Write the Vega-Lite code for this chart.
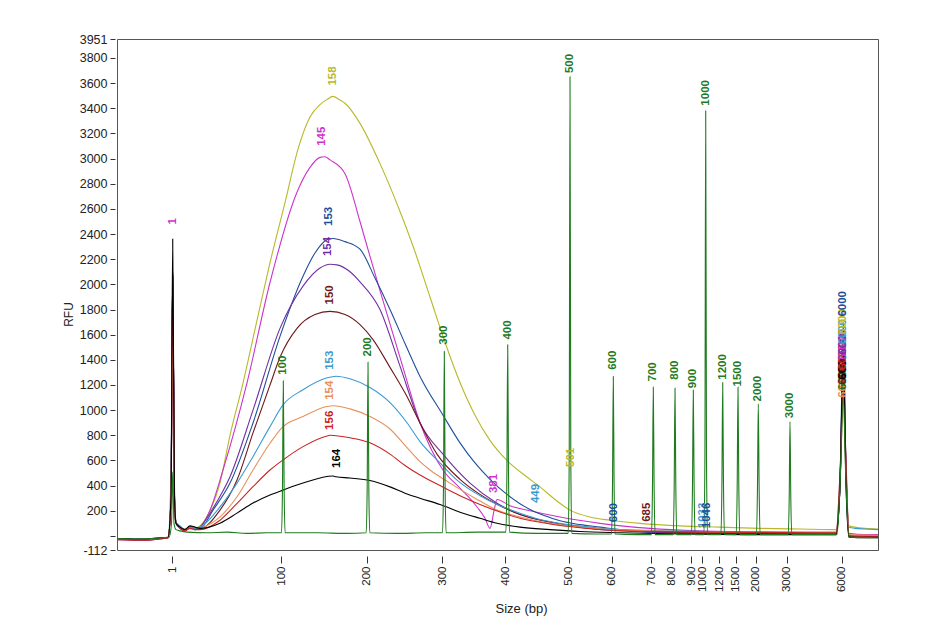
{
  "$schema": "https://vega.github.io/schema/vega-lite/v6.json",
  "width": 761,
  "height": 511,
  "autosize": "none",
  "padding": {"left": 117, "top": 39, "right": 67, "bottom": 75},
  "background": "white",
  "config": {
    "view": {"stroke": "#555555", "strokeWidth": 1},
    "font": "Liberation Sans"
  },
  "datasets": {
    "traces": [
      {"s":"S158","x":0,"y":-25},{"s":"S158","x":280,"y":-30},{"s":"S158","x":430,"y":-20},{"s":"S158","x":510,"y":-15},{"s":"S158","x":540,"y":300},{"s":"S158","x":557,"y":2000},{"s":"S158","x":575,"y":300},{"s":"S158","x":590,"y":110},{"s":"S158","x":630,"y":70},{"s":"S158","x":680,"y":50},{"s":"S158","x":730,"y":70},{"s":"S158","x":780,"y":60},{"s":"S158","x":830,"y":80},{"s":"S158","x":930,"y":200},{"s":"S158","x":1030,"y":420},{"s":"S158","x":1130,"y":800},{"s":"S158","x":1260,"y":1215},{"s":"S158","x":1410,"y":1750},{"s":"S158","x":1530,"y":2172},{"s":"S158","x":1680,"y":2650},{"s":"S158","x":1810,"y":3075},{"s":"S158","x":1930,"y":3330},{"s":"S158","x":2030,"y":3430},{"s":"S158","x":2100,"y":3470},{"s":"S158","x":2160,"y":3495},{"s":"S158","x":2220,"y":3470},{"s":"S158","x":2280,"y":3440},{"s":"S158","x":2430,"y":3280},{"s":"S158","x":2630,"y":2960},{"s":"S158","x":2830,"y":2580},{"s":"S158","x":2960,"y":2305},{"s":"S158","x":3130,"y":1900},{"s":"S158","x":3280,"y":1540},{"s":"S158","x":3430,"y":1220},{"s":"S158","x":3580,"y":960},{"s":"S158","x":3730,"y":760},{"s":"S158","x":3900,"y":600},{"s":"S158","x":4080,"y":480},{"s":"S158","x":4230,"y":390},{"s":"S158","x":4380,"y":290},{"s":"S158","x":4530,"y":205},{"s":"S158","x":4730,"y":150},{"s":"S158","x":4930,"y":125},{"s":"S158","x":5230,"y":100},{"s":"S158","x":5630,"y":80},{"s":"S158","x":6030,"y":70},{"s":"S158","x":6430,"y":60},{"s":"S158","x":6830,"y":55},{"s":"S158","x":7190,"y":50},{"s":"S158","x":7230,"y":400},{"s":"S158","x":7263,"y":1480},{"s":"S158","x":7290,"y":500},{"s":"S158","x":7320,"y":80},{"s":"S158","x":7380,"y":70},{"s":"S158","x":7480,"y":60},{"s":"S158","x":7610,"y":55},

      {"s":"S145","x":0,"y":-30},{"s":"S145","x":280,"y":-35},{"s":"S145","x":430,"y":-25},{"s":"S145","x":510,"y":-15},{"s":"S145","x":540,"y":300},{"s":"S145","x":557,"y":2050},{"s":"S145","x":575,"y":300},{"s":"S145","x":590,"y":100},{"s":"S145","x":630,"y":60},{"s":"S145","x":680,"y":40},{"s":"S145","x":730,"y":70},{"s":"S145","x":780,"y":50},{"s":"S145","x":830,"y":70},{"s":"S145","x":930,"y":205},{"s":"S145","x":1060,"y":524},{"s":"S145","x":1300,"y":1217},{"s":"S145","x":1530,"y":2015},{"s":"S145","x":1800,"y":2733},{"s":"S145","x":1930,"y":2930},{"s":"S145","x":2030,"y":3010},{"s":"S145","x":2080,"y":3015},{"s":"S145","x":2130,"y":2990},{"s":"S145","x":2280,"y":2880},{"s":"S145","x":2430,"y":2500},{"s":"S145","x":2500,"y":2305},{"s":"S145","x":2630,"y":1950},{"s":"S145","x":2830,"y":1420},{"s":"S145","x":3030,"y":900},{"s":"S145","x":3260,"y":524},{"s":"S145","x":3430,"y":380},{"s":"S145","x":3580,"y":250},{"s":"S145","x":3680,"y":140},{"s":"S145","x":3730,"y":60},{"s":"S145","x":3770,"y":200},{"s":"S145","x":3800,"y":290},{"s":"S145","x":3930,"y":240},{"s":"S145","x":4130,"y":200},{"s":"S145","x":4430,"y":150},{"s":"S145","x":4830,"y":100},{"s":"S145","x":5330,"y":60},{"s":"S145","x":5830,"y":40},{"s":"S145","x":6430,"y":30},{"s":"S145","x":7190,"y":25},{"s":"S145","x":7230,"y":400},{"s":"S145","x":7263,"y":1400},{"s":"S145","x":7290,"y":500},{"s":"S145","x":7320,"y":20},{"s":"S145","x":7480,"y":10},{"s":"S145","x":7610,"y":10},

      {"s":"S153a","x":0,"y":-25},{"s":"S153a","x":280,"y":-30},{"s":"S153a","x":430,"y":-20},{"s":"S153a","x":510,"y":-15},{"s":"S153a","x":540,"y":300},{"s":"S153a","x":557,"y":2080},{"s":"S153a","x":575,"y":300},{"s":"S153a","x":590,"y":110},{"s":"S153a","x":630,"y":70},{"s":"S153a","x":680,"y":50},{"s":"S153a","x":730,"y":70},{"s":"S153a","x":780,"y":60},{"s":"S153a","x":830,"y":60},{"s":"S153a","x":960,"y":205},{"s":"S153a","x":1130,"y":420},{"s":"S153a","x":1360,"y":898},{"s":"S153a","x":1630,"y":1587},{"s":"S153a","x":1860,"y":2065},{"s":"S153a","x":1980,"y":2250},{"s":"S153a","x":2100,"y":2355},{"s":"S153a","x":2160,"y":2365},{"s":"S153a","x":2280,"y":2340},{"s":"S153a","x":2430,"y":2280},{"s":"S153a","x":2580,"y":2050},{"s":"S153a","x":2730,"y":1800},{"s":"S153a","x":2880,"y":1530},{"s":"S153a","x":3030,"y":1268},{"s":"S153a","x":3260,"y":960},{"s":"S153a","x":3430,"y":740},{"s":"S153a","x":3580,"y":580},{"s":"S153a","x":3730,"y":450},{"s":"S153a","x":3900,"y":330},{"s":"S153a","x":4130,"y":210},{"s":"S153a","x":4280,"y":160},{"s":"S153a","x":4430,"y":120},{"s":"S153a","x":4630,"y":90},{"s":"S153a","x":4830,"y":70},{"s":"S153a","x":5030,"y":50},{"s":"S153a","x":5330,"y":30},{"s":"S153a","x":5830,"y":20},{"s":"S153a","x":6430,"y":15},{"s":"S153a","x":7190,"y":15},{"s":"S153a","x":7230,"y":400},{"s":"S153a","x":7263,"y":1700},{"s":"S153a","x":7290,"y":500},{"s":"S153a","x":7320,"y":0},{"s":"S153a","x":7480,"y":-10},{"s":"S153a","x":7610,"y":-10},

      {"s":"S154a","x":0,"y":-25},{"s":"S154a","x":280,"y":-35},{"s":"S154a","x":430,"y":-20},{"s":"S154a","x":510,"y":-15},{"s":"S154a","x":540,"y":300},{"s":"S154a","x":557,"y":2060},{"s":"S154a","x":575,"y":300},{"s":"S154a","x":590,"y":100},{"s":"S154a","x":630,"y":60},{"s":"S154a","x":680,"y":40},{"s":"S154a","x":730,"y":70},{"s":"S154a","x":780,"y":50},{"s":"S154a","x":830,"y":70},{"s":"S154a","x":960,"y":220},{"s":"S154a","x":1130,"y":470},{"s":"S154a","x":1360,"y":1000},{"s":"S154a","x":1630,"y":1650},{"s":"S154a","x":1860,"y":1986},{"s":"S154a","x":2030,"y":2130},{"s":"S154a","x":2130,"y":2160},{"s":"S154a","x":2200,"y":2155},{"s":"S154a","x":2330,"y":2100},{"s":"S154a","x":2430,"y":2020},{"s":"S154a","x":2630,"y":1800},{"s":"S154a","x":2830,"y":1350},{"s":"S154a","x":3030,"y":900},{"s":"S154a","x":3260,"y":650},{"s":"S154a","x":3530,"y":420},{"s":"S154a","x":3800,"y":260},{"s":"S154a","x":4030,"y":170},{"s":"S154a","x":4330,"y":110},{"s":"S154a","x":4630,"y":70},{"s":"S154a","x":4930,"y":45},{"s":"S154a","x":5330,"y":30},{"s":"S154a","x":6030,"y":20},{"s":"S154a","x":7190,"y":20},{"s":"S154a","x":7230,"y":400},{"s":"S154a","x":7263,"y":1360},{"s":"S154a","x":7290,"y":500},{"s":"S154a","x":7320,"y":0},{"s":"S154a","x":7610,"y":0},

      {"s":"S150","x":0,"y":-25},{"s":"S150","x":280,"y":-30},{"s":"S150","x":430,"y":-20},{"s":"S150","x":510,"y":-15},{"s":"S150","x":540,"y":300},{"s":"S150","x":557,"y":2070},{"s":"S150","x":575,"y":300},{"s":"S150","x":590,"y":100},{"s":"S150","x":630,"y":70},{"s":"S150","x":680,"y":50},{"s":"S150","x":730,"y":70},{"s":"S150","x":780,"y":60},{"s":"S150","x":830,"y":60},{"s":"S150","x":1030,"y":205},{"s":"S150","x":1200,"y":444},{"s":"S150","x":1360,"y":819},{"s":"S150","x":1530,"y":1200},{"s":"S150","x":1630,"y":1420},{"s":"S150","x":1800,"y":1650},{"s":"S150","x":1980,"y":1760},{"s":"S150","x":2130,"y":1785},{"s":"S150","x":2280,"y":1760},{"s":"S150","x":2430,"y":1680},{"s":"S150","x":2560,"y":1561},{"s":"S150","x":2730,"y":1340},{"s":"S150","x":2900,"y":1108},{"s":"S150","x":3030,"y":898},{"s":"S150","x":3200,"y":650},{"s":"S150","x":3430,"y":450},{"s":"S150","x":3630,"y":330},{"s":"S150","x":3830,"y":240},{"s":"S150","x":4030,"y":170},{"s":"S150","x":4330,"y":110},{"s":"S150","x":4630,"y":70},{"s":"S150","x":4930,"y":50},{"s":"S150","x":5230,"y":40},{"s":"S150","x":5630,"y":30},{"s":"S150","x":6430,"y":20},{"s":"S150","x":7190,"y":20},{"s":"S150","x":7230,"y":500},{"s":"S150","x":7263,"y":1160},{"s":"S150","x":7290,"y":600},{"s":"S150","x":7320,"y":0},{"s":"S150","x":7610,"y":-5},

      {"s":"S153b","x":0,"y":-20},{"s":"S153b","x":280,"y":-25},{"s":"S153b","x":430,"y":-15},{"s":"S153b","x":510,"y":-10},{"s":"S153b","x":540,"y":490},{"s":"S153b","x":557,"y":2040},{"s":"S153b","x":575,"y":400},{"s":"S153b","x":590,"y":110},{"s":"S153b","x":630,"y":80},{"s":"S153b","x":680,"y":50},{"s":"S153b","x":730,"y":70},{"s":"S153b","x":780,"y":60},{"s":"S153b","x":830,"y":70},{"s":"S153b","x":1030,"y":231},{"s":"S153b","x":1200,"y":420},{"s":"S153b","x":1360,"y":630},{"s":"S153b","x":1530,"y":869},{"s":"S153b","x":1660,"y":1042},{"s":"S153b","x":1860,"y":1162},{"s":"S153b","x":2100,"y":1257},{"s":"S153b","x":2190,"y":1270},{"s":"S153b","x":2330,"y":1250},{"s":"S153b","x":2530,"y":1180},{"s":"S153b","x":2730,"y":1060},{"s":"S153b","x":2900,"y":900},{"s":"S153b","x":3030,"y":750},{"s":"S153b","x":3230,"y":580},{"s":"S153b","x":3400,"y":444},{"s":"S153b","x":3630,"y":320},{"s":"S153b","x":3830,"y":240},{"s":"S153b","x":4030,"y":180},{"s":"S153b","x":4230,"y":130},{"s":"S153b","x":4430,"y":100},{"s":"S153b","x":4730,"y":70},{"s":"S153b","x":5030,"y":50},{"s":"S153b","x":5530,"y":40},{"s":"S153b","x":6430,"y":30},{"s":"S153b","x":7190,"y":30},{"s":"S153b","x":7230,"y":400},{"s":"S153b","x":7263,"y":1440},{"s":"S153b","x":7290,"y":500},{"s":"S153b","x":7320,"y":70},{"s":"S153b","x":7380,"y":60},{"s":"S153b","x":7480,"y":55},{"s":"S153b","x":7610,"y":50},

      {"s":"S154b","x":0,"y":-25},{"s":"S154b","x":280,"y":-30},{"s":"S154b","x":430,"y":-20},{"s":"S154b","x":510,"y":-15},{"s":"S154b","x":540,"y":300},{"s":"S154b","x":557,"y":1600},{"s":"S154b","x":575,"y":300},{"s":"S154b","x":590,"y":100},{"s":"S154b","x":630,"y":60},{"s":"S154b","x":680,"y":40},{"s":"S154b","x":730,"y":60},{"s":"S154b","x":780,"y":50},{"s":"S154b","x":830,"y":60},{"s":"S154b","x":1030,"y":152},{"s":"S154b","x":1200,"y":311},{"s":"S154b","x":1360,"y":524},{"s":"S154b","x":1530,"y":737},{"s":"S154b","x":1660,"y":869},{"s":"S154b","x":1860,"y":949},{"s":"S154b","x":2100,"y":1029},{"s":"S154b","x":2160,"y":1035},{"s":"S154b","x":2330,"y":1010},{"s":"S154b","x":2530,"y":950},{"s":"S154b","x":2730,"y":850},{"s":"S154b","x":2880,"y":720},{"s":"S154b","x":3030,"y":590},{"s":"S154b","x":3130,"y":524},{"s":"S154b","x":3330,"y":420},{"s":"S154b","x":3580,"y":300},{"s":"S154b","x":3800,"y":205},{"s":"S154b","x":4030,"y":150},{"s":"S154b","x":4330,"y":100},{"s":"S154b","x":4630,"y":70},{"s":"S154b","x":4930,"y":50},{"s":"S154b","x":5330,"y":40},{"s":"S154b","x":6030,"y":30},{"s":"S154b","x":7190,"y":25},{"s":"S154b","x":7230,"y":400},{"s":"S154b","x":7263,"y":1060},{"s":"S154b","x":7290,"y":500},{"s":"S154b","x":7320,"y":10},{"s":"S154b","x":7610,"y":5},

      {"s":"S156","x":0,"y":-30},{"s":"S156","x":280,"y":-35},{"s":"S156","x":430,"y":-25},{"s":"S156","x":510,"y":-15},{"s":"S156","x":540,"y":300},{"s":"S156","x":557,"y":2090},{"s":"S156","x":575,"y":300},{"s":"S156","x":590,"y":100},{"s":"S156","x":630,"y":60},{"s":"S156","x":680,"y":40},{"s":"S156","x":730,"y":60},{"s":"S156","x":780,"y":50},{"s":"S156","x":830,"y":50},{"s":"S156","x":1030,"y":125},{"s":"S156","x":1200,"y":258},{"s":"S156","x":1360,"y":391},{"s":"S156","x":1530,"y":524},{"s":"S156","x":1660,"y":604},{"s":"S156","x":1860,"y":710},{"s":"S156","x":2100,"y":795},{"s":"S156","x":2130,"y":800},{"s":"S156","x":2330,"y":780},{"s":"S156","x":2530,"y":740},{"s":"S156","x":2730,"y":650},{"s":"S156","x":2880,"y":560},{"s":"S156","x":3030,"y":484},{"s":"S156","x":3230,"y":400},{"s":"S156","x":3430,"y":320},{"s":"S156","x":3630,"y":250},{"s":"S156","x":3830,"y":190},{"s":"S156","x":4030,"y":140},{"s":"S156","x":4330,"y":95},{"s":"S156","x":4630,"y":65},{"s":"S156","x":4930,"y":45},{"s":"S156","x":5330,"y":35},{"s":"S156","x":6030,"y":30},{"s":"S156","x":7190,"y":25},{"s":"S156","x":7230,"y":450},{"s":"S156","x":7263,"y":1260},{"s":"S156","x":7290,"y":550},{"s":"S156","x":7320,"y":-5},{"s":"S156","x":7610,"y":-10},

      {"s":"S164","x":0,"y":-20},{"s":"S164","x":280,"y":-25},{"s":"S164","x":430,"y":-15},{"s":"S164","x":510,"y":-10},{"s":"S164","x":540,"y":300},{"s":"S164","x":557,"y":2360},{"s":"S164","x":575,"y":300},{"s":"S164","x":590,"y":100},{"s":"S164","x":630,"y":70},{"s":"S164","x":680,"y":50},{"s":"S164","x":730,"y":80},{"s":"S164","x":780,"y":70},{"s":"S164","x":830,"y":60},{"s":"S164","x":1030,"y":101},{"s":"S164","x":1200,"y":181},{"s":"S164","x":1360,"y":261},{"s":"S164","x":1530,"y":325},{"s":"S164","x":1660,"y":364},{"s":"S164","x":1860,"y":420},{"s":"S164","x":2160,"y":476},{"s":"S164","x":2190,"y":470},{"s":"S164","x":2330,"y":460},{"s":"S164","x":2530,"y":440},{"s":"S164","x":2730,"y":390},{"s":"S164","x":2880,"y":340},{"s":"S164","x":3030,"y":300},{"s":"S164","x":3230,"y":250},{"s":"S164","x":3460,"y":181},{"s":"S164","x":3630,"y":140},{"s":"S164","x":3800,"y":101},{"s":"S164","x":4030,"y":70},{"s":"S164","x":4330,"y":50},{"s":"S164","x":4630,"y":35},{"s":"S164","x":5030,"y":25},{"s":"S164","x":5630,"y":15},{"s":"S164","x":6430,"y":10},{"s":"S164","x":7190,"y":10},{"s":"S164","x":7230,"y":400},{"s":"S164","x":7263,"y":1480},{"s":"S164","x":7290,"y":400},{"s":"S164","x":7320,"y":-10},{"s":"S164","x":7480,"y":-15},{"s":"S164","x":7610,"y":-15},

      {"s":"Ladder","x":0,"y":-20},{"s":"Ladder","x":280,"y":-25},{"s":"Ladder","x":430,"y":-15},{"s":"Ladder","x":520,"y":-10},{"s":"Ladder","x":545,"y":100},{"s":"Ladder","x":557,"y":510},{"s":"Ladder","x":570,"y":100},{"s":"Ladder","x":590,"y":50},{"s":"Ladder","x":630,"y":40},{"s":"Ladder","x":700,"y":30},{"s":"Ladder","x":900,"y":25},{"s":"Ladder","x":1100,"y":30},{"s":"Ladder","x":1300,"y":20},{"s":"Ladder","x":1500,"y":25},{"s":"Ladder","x":1645,"y":25},{"s":"Ladder","x":1655,"y":400},{"s":"Ladder","x":1663,"y":1234},{"s":"Ladder","x":1671,"y":400},{"s":"Ladder","x":1681,"y":25},{"s":"Ladder","x":2000,"y":25},{"s":"Ladder","x":2300,"y":20},{"s":"Ladder","x":2492,"y":25},{"s":"Ladder","x":2502,"y":400},{"s":"Ladder","x":2510,"y":1380},{"s":"Ladder","x":2518,"y":400},{"s":"Ladder","x":2528,"y":25},{"s":"Ladder","x":2800,"y":20},{"s":"Ladder","x":3100,"y":25},{"s":"Ladder","x":3255,"y":25},{"s":"Ladder","x":3265,"y":400},{"s":"Ladder","x":3273,"y":1467},{"s":"Ladder","x":3281,"y":400},{"s":"Ladder","x":3291,"y":25},{"s":"Ladder","x":3600,"y":30},{"s":"Ladder","x":3889,"y":30},{"s":"Ladder","x":3899,"y":500},{"s":"Ladder","x":3907,"y":1520},{"s":"Ladder","x":3915,"y":500},{"s":"Ladder","x":3925,"y":30},{"s":"Ladder","x":4200,"y":20},{"s":"Ladder","x":4512,"y":20},{"s":"Ladder","x":4522,"y":600},{"s":"Ladder","x":4530,"y":3650},{"s":"Ladder","x":4538,"y":600},{"s":"Ladder","x":4548,"y":20},{"s":"Ladder","x":4800,"y":15},{"s":"Ladder","x":4945,"y":15},{"s":"Ladder","x":4955,"y":400},{"s":"Ladder","x":4963,"y":1268},{"s":"Ladder","x":4971,"y":400},{"s":"Ladder","x":4981,"y":15},{"s":"Ladder","x":5200,"y":10},{"s":"Ladder","x":5345,"y":10},{"s":"Ladder","x":5355,"y":400},{"s":"Ladder","x":5363,"y":1183},{"s":"Ladder","x":5371,"y":400},{"s":"Ladder","x":5381,"y":10},{"s":"Ladder","x":5562,"y":10},{"s":"Ladder","x":5572,"y":400},{"s":"Ladder","x":5580,"y":1175},{"s":"Ladder","x":5588,"y":400},{"s":"Ladder","x":5598,"y":10},{"s":"Ladder","x":5745,"y":10},{"s":"Ladder","x":5755,"y":400},{"s":"Ladder","x":5763,"y":1160},{"s":"Ladder","x":5771,"y":400},{"s":"Ladder","x":5781,"y":10},{"s":"Ladder","x":5869,"y":10},{"s":"Ladder","x":5879,"y":600},{"s":"Ladder","x":5887,"y":3381},{"s":"Ladder","x":5895,"y":600},{"s":"Ladder","x":5905,"y":10},{"s":"Ladder","x":6039,"y":10},{"s":"Ladder","x":6049,"y":400},{"s":"Ladder","x":6057,"y":1220},{"s":"Ladder","x":6065,"y":400},{"s":"Ladder","x":6075,"y":10},{"s":"Ladder","x":6192,"y":10},{"s":"Ladder","x":6202,"y":400},{"s":"Ladder","x":6210,"y":1183},{"s":"Ladder","x":6218,"y":400},{"s":"Ladder","x":6228,"y":10},{"s":"Ladder","x":6395,"y":10},{"s":"Ladder","x":6405,"y":400},{"s":"Ladder","x":6413,"y":1050},{"s":"Ladder","x":6421,"y":400},{"s":"Ladder","x":6431,"y":10},{"s":"Ladder","x":6712,"y":10},{"s":"Ladder","x":6722,"y":300},{"s":"Ladder","x":6730,"y":909},{"s":"Ladder","x":6738,"y":300},{"s":"Ladder","x":6748,"y":10},{"s":"Ladder","x":7000,"y":10},{"s":"Ladder","x":7200,"y":10},{"s":"Ladder","x":7230,"y":400},{"s":"Ladder","x":7263,"y":1100},{"s":"Ladder","x":7290,"y":400},{"s":"Ladder","x":7320,"y":-10},{"s":"Ladder","x":7610,"y":-15}
    ],
    "labels": [
      {"s":"S158","x":2163,"y":3581,"t":"158"},
      {"s":"S145","x":2047,"y":3102,"t":"145"},
      {"s":"S153a","x":2120,"y":2464,"t":"153"},
      {"s":"S154a","x":2110,"y":2225,"t":"154"},
      {"s":"S150","x":2130,"y":1840,"t":"150"},
      {"s":"S153b","x":2130,"y":1321,"t":"153"},
      {"s":"S154b","x":2130,"y":1082,"t":"154"},
      {"s":"S156","x":2130,"y":843,"t":"156"},
      {"s":"S164","x":2197,"y":540,"t":"164"},
      {"s":"Ladder","x":1663,"y":1281,"t":"100"},
      {"s":"Ladder","x":2510,"y":1427,"t":"200"},
      {"s":"Ladder","x":3273,"y":1520,"t":"300"},
      {"s":"Ladder","x":3907,"y":1561,"t":"400"},
      {"s":"Ladder","x":4530,"y":3680,"t":"500"},
      {"s":"Ladder","x":4963,"y":1321,"t":"600"},
      {"s":"Ladder","x":5363,"y":1228,"t":"700"},
      {"s":"Ladder","x":5580,"y":1242,"t":"800"},
      {"s":"Ladder","x":5763,"y":1175,"t":"900"},
      {"s":"Ladder","x":5887,"y":3421,"t":"1000"},
      {"s":"Ladder","x":6057,"y":1242,"t":"1200"},
      {"s":"Ladder","x":6210,"y":1188,"t":"1500"},
      {"s":"Ladder","x":6413,"y":1069,"t":"2000"},
      {"s":"Ladder","x":6730,"y":936,"t":"3000"},
      {"s":"S145","x":3770,"y":341,"t":"381"},
      {"s":"S153b","x":4190,"y":261,"t":"449"},
      {"s":"S158","x":4540,"y":548,"t":"501"},
      {"s":"S153a","x":4970,"y":109,"t":"600"},
      {"s":"S150","x":5297,"y":112,"t":"685"},
      {"s":"S153b","x":5860,"y":61,"t":"1033"},
      {"s":"S153a","x":5900,"y":61,"t":"1046"},
      {"s":"S145","x":557,"y":2476,"t":"1"},
      {"s":"S154b","x":7263,"y":1098,"t":"6000"},
      {"s":"Ladder","x":7263,"y":1162,"t":"6000"},
      {"s":"S150","x":7263,"y":1202,"t":"6000"},
      {"s":"S164","x":7263,"y":1242,"t":"6000"},
      {"s":"S156","x":7263,"y":1321,"t":"6000"},
      {"s":"S145","x":7263,"y":1401,"t":"6000"},
      {"s":"S154a","x":7263,"y":1441,"t":"6000"},
      {"s":"S153b","x":7263,"y":1521,"t":"6000"},
      {"s":"S158","x":7263,"y":1600,"t":"6000"},
      {"s":"S153a","x":7263,"y":1744,"t":"6000"}
    ]
  },
  "layer": [
    {
      "data": {"name": "traces"},
      "mark": {"type": "line", "strokeWidth": 1.1, "interpolate": "monotone"},
      "encoding": {
        "x": {
          "field": "x", "type": "quantitative",
          "scale": {"domain": [0, 7610], "nice": false, "zero": false},
          "axis": {
            "title": "Size (bp)",
            "values": [553, 1640, 2497, 3253, 3880, 4517, 4947, 5340, 5547, 5740, 5853, 6023, 6187, 6387, 6697, 7247],
            "tickCount": 100,
            "labelExpr": "['1','100','200','300','400','500','600','700','800','900','1000','1200','1500','2000','3000','6000'][indexof([553, 1640, 2497, 3253, 3880, 4517, 4947, 5340, 5547, 5740, 5853, 6023, 6187, 6387, 6697, 7247], datum.value)]",
            "labelAngle": 270,
            "labelAlign": "right",
            "labelBaseline": "middle",
            "labelOverlap": false,
            "labelFlush": false,
            "labelBound": false,
            "grid": false,
            "domain": false,
            "tickSize": 7,
            "offset": 6,
            "labelPadding": 3,
            "labelFontSize": 11.5,
            "labelColor": "#222222",
            "tickColor": "#333333",
            "titleFontSize": 13,
            "titleFontWeight": "normal",
            "titleColor": "#222222",
            "titleX": 404,
            "titleY": 46,
            "titleBaseline": "top"
          }
        },
        "y": {
          "field": "y", "type": "quantitative",
          "scale": {"domain": [-112, 3951], "nice": false, "zero": false},
          "axis": {
            "title": "RFU",
            "values": [-112, 0, 200, 400, 600, 800, 1000, 1200, 1400, 1600, 1800, 2000, 2200, 2400, 2600, 2800, 3000, 3200, 3400, 3600, 3800, 3951],
            "tickCount": 100,
            "labelExpr": "datum.value == 0 ? '' : '' + datum.value",
            "labelOverlap": false,
            "labelFlush": false,
            "grid": false,
            "domain": false,
            "tickSize": 5,
            "offset": 2,
            "labelPadding": 3,
            "labelFontSize": 12.5,
            "labelColor": "#222222",
            "tickColor": "#333333",
            "titleFontSize": 12,
            "titleFontWeight": "normal",
            "titleColor": "#222222",
            "titleY": 275
          }
        },
        "color": {
          "field": "s", "type": "nominal",
          "scale": {
            "domain": ["S158", "S145", "S153a", "S154a", "S150", "S153b", "S154b", "S156", "S164", "Ladder"],
            "range": ["#b8b82a", "#cc33cc", "#1f4e9a", "#7030a0", "#701818", "#3b9bd1", "#e8905c", "#cc2222", "#000000", "#1e7b1e"]
          },
          "legend": null
        }
      }
    },
    {
      "data": {"name": "labels"},
      "mark": {"type": "text", "angle": 270, "align": "left", "baseline": "middle", "fontSize": 11.5, "fontWeight": "bold", "clip": false},
      "encoding": {
        "x": {"field": "x", "type": "quantitative"},
        "y": {"field": "y", "type": "quantitative"},
        "text": {"field": "t"},
        "color": {"field": "s", "type": "nominal", "legend": null}
      }
    }
  ]
}
